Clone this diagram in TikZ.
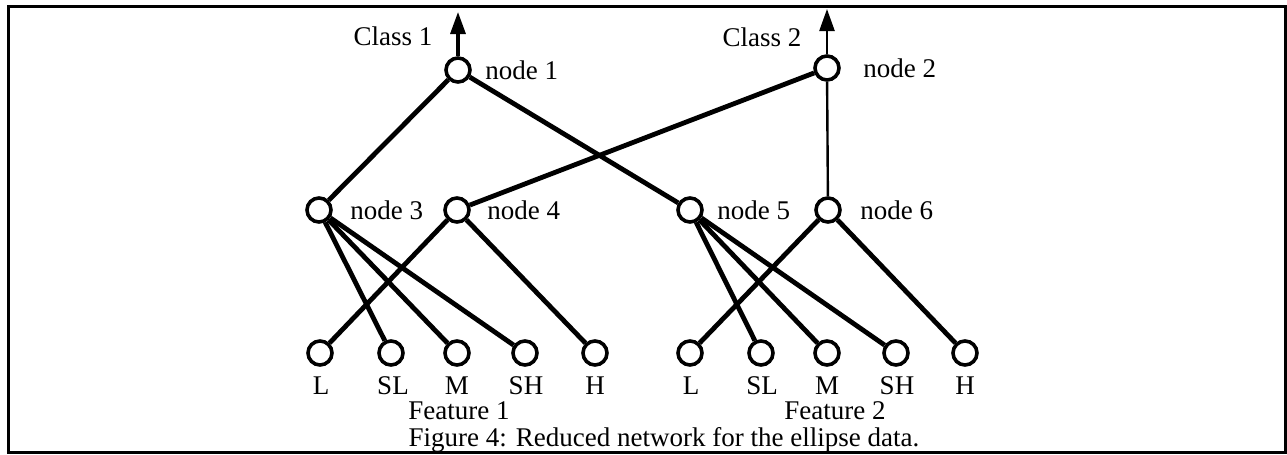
\documentclass[tikz,border=0pt]{standalone}
\usepackage{fontspec}
\setmainfont{Liberation Serif}
\usetikzlibrary{arrows.meta}
\begin{document}
\begin{tikzpicture}[x=0.5pt,y=-0.5pt,
  unit/.style={circle,draw,line width=1.8pt,minimum size=12pt,inner sep=0pt},
  lbl/.style={font=\fontsize{13.5}{15}\selectfont,inner sep=0pt},
  thick edge/.style={line width=2.4pt},
  thin edge/.style={line width=1.2pt},
  out arrow/.style={-{Triangle[length=11pt,width=7.5pt]}}]
\useasboundingbox (0,0) rectangle (1287,455);
\draw[line width=1.5pt] (8,6) rectangle (1285,452);
% output nodes
\node[unit] (n1) at (458,70) {};
\node[unit] (n2) at (827,68) {};
% hidden nodes
\node[unit] (n3) at (319,210) {};
\node[unit] (n4) at (457,210) {};
\node[unit] (n5) at (690,210) {};
\node[unit] (n6) at (828,210) {};
% input nodes
\foreach \name/\x in {aL/320,aSL/391,aM/457,aSH/525,aH/595,bL/690,bSL/761,bM/827,bSH/896,bH/965}
  \node[unit] (\name) at (\x,353) {};
% output arrows
\coordinate (c1) at (458,12);
\coordinate (c2) at (827,9);
\draw[out arrow,line width=1.6pt] (n1) -- (c1);
\draw[out arrow,line width=1.2pt] (n2) -- (c2);
% labels
\node[lbl] (t1) at (393,36) {Class 1};
\node[lbl] (t2) at (762,37) {Class 2};
\node[lbl,anchor=west] (l1) at (485,70) {node 1};
\node[lbl,anchor=west] (l2) at (863,68) {node 2};
\node[lbl,anchor=west] (l3) at (350,210) {node 3};
\node[lbl,anchor=west] (l4) at (487,210) {node 4};
\node[lbl,anchor=west] (l5) at (717,210) {node 5};
\node[lbl,anchor=west] (l6) at (860,210) {node 6};
\foreach \name/\x/\t in {aL/321/L,aSL/393/SL,aM/457/M,aSH/526/SH,aH/595/H,bL/691/L,bSL/762/SL,bM/827/M,bSH/897/SH,bH/965/H}
  \node[lbl] (t\name) at (\x,386) {\t};
\node[lbl] (f1) at (459,411) {Feature 1};
\node[lbl] (f2) at (835,411) {Feature 2};
\node[lbl] (cap) at (664,440) {Figure 4: Reduced network for the ellipse data.};
% edges top layer
\draw[thick edge] (n1) -- (n3);
\draw[thick edge] (n1) -- (n5);
\draw[thick edge] (n2) -- (n4);
\draw[thin edge] (n2) -- (n6);
% edges bottom layer
\foreach \a/\b in {n3/aSL,n3/aM,n3/aSH,n4/aL,n4/aH,n5/bSL,n5/bM,n5/bSH,n6/bL,n6/bH}
  \draw[thick edge] (\a) -- (\b);
\end{tikzpicture}
\end{document}
